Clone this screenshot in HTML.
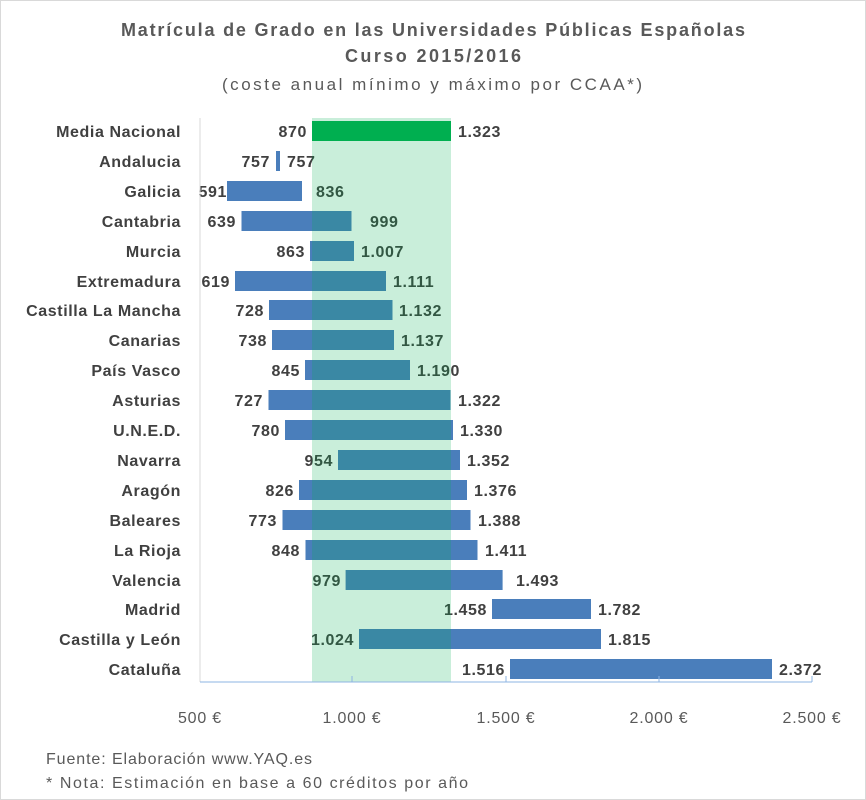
<!DOCTYPE html>
<html><head><meta charset="utf-8"><style>
body{margin:0;background:#fff;}
svg{display:block;font-family:"Liberation Sans",sans-serif;}
</style></head><body>
<svg width="866" height="800" viewBox="0 0 866 800">
<rect x="0.5" y="0.5" width="865" height="799" fill="#fff" stroke="#d9d9d9"/>
<g fill="#595959" font-weight="bold" font-size="18">
<text x="121" y="36" textLength="624" lengthAdjust="spacing">Matrícula de Grado en las Universidades Públicas Españolas</text>
<text x="345" y="62" textLength="176" lengthAdjust="spacing">Curso 2015/2016</text>
</g>
<text x="222" y="90" fill="#595959" font-size="17" textLength="420" lengthAdjust="spacing">(coste anual mínimo y máximo por CCAA*)</text>
<g font-size="16" font-weight="bold" fill="#404040" letter-spacing="0.6">
<g text-anchor="end">
<text x="181" y="137">Media Nacional</text>
<text x="181" y="167">Andalucia</text>
<text x="181" y="197">Galicia</text>
<text x="181" y="227">Cantabria</text>
<text x="181" y="257">Murcia</text>
<text x="181" y="287">Extremadura</text>
<text x="181" y="316">Castilla La Mancha</text>
<text x="181" y="346">Canarias</text>
<text x="181" y="376">País Vasco</text>
<text x="181" y="406">Asturias</text>
<text x="181" y="436">U.N.E.D.</text>
<text x="181" y="466">Navarra</text>
<text x="181" y="496">Aragón</text>
<text x="181" y="526">Baleares</text>
<text x="181" y="556">La Rioja</text>
<text x="181" y="586">Valencia</text>
<text x="181" y="615">Madrid</text>
<text x="181" y="645">Castilla y León</text>
<text x="181" y="675">Cataluña</text>
</g>
<rect x="312" y="121" width="139" height="20" fill="#00b050"/>
<g fill="#4a7ebb">
<rect x="276" y="151" width="4" height="20"/>
<rect x="227" y="181" width="75" height="20"/>
<rect x="241.5" y="211" width="110" height="20"/>
<rect x="310" y="241" width="44" height="20"/>
<rect x="235" y="271" width="151" height="20"/>
<rect x="269" y="300" width="123.5" height="20"/>
<rect x="272" y="330" width="122" height="20"/>
<rect x="305" y="360" width="105" height="20"/>
<rect x="268.5" y="390" width="182" height="20"/>
<rect x="285" y="420" width="168" height="20"/>
<rect x="338" y="450" width="122" height="20"/>
<rect x="299" y="480" width="168" height="20"/>
<rect x="282.5" y="510" width="188" height="20"/>
<rect x="305.5" y="540" width="172" height="20"/>
<rect x="345.6" y="570" width="157" height="20"/>
<rect x="492" y="599" width="99" height="20"/>
<rect x="359" y="629" width="242" height="20"/>
<rect x="510" y="659" width="262" height="20"/>
</g>
<g text-anchor="end">
<text x="307" y="137">870</text>
<text x="270" y="167">757</text>
<text x="227" y="197">591</text>
<text x="236" y="227">639</text>
<text x="305" y="257">863</text>
<text x="230" y="287">619</text>
<text x="264" y="316">728</text>
<text x="267" y="346">738</text>
<text x="300" y="376">845</text>
<text x="263" y="406">727</text>
<text x="280" y="436">780</text>
<text x="333" y="466">954</text>
<text x="294" y="496">826</text>
<text x="277" y="526">773</text>
<text x="300" y="556">848</text>
<text x="341" y="586">979</text>
<text x="487" y="615">1.458</text>
<text x="354" y="645">1.024</text>
<text x="505" y="675">1.516</text>
</g>
<text x="458" y="137">1.323</text>
<text x="287" y="167">757</text>
<text x="316" y="197">836</text>
<text x="370" y="227">999</text>
<text x="361" y="257">1.007</text>
<text x="393" y="287">1.111</text>
<text x="399" y="316">1.132</text>
<text x="401" y="346">1.137</text>
<text x="417" y="376">1.190</text>
<text x="458" y="406">1.322</text>
<text x="460" y="436">1.330</text>
<text x="467" y="466">1.352</text>
<text x="474" y="496">1.376</text>
<text x="478" y="526">1.388</text>
<text x="485" y="556">1.411</text>
<text x="516" y="586">1.493</text>
<text x="598" y="615">1.782</text>
<text x="608" y="645">1.815</text>
<text x="779" y="675">2.372</text>
</g>
<rect x="312" y="118" width="139" height="564" fill="rgb(0,176,80)" fill-opacity="0.21"/>
<line x1="200" y1="118" x2="200" y2="682" stroke="#d9d9d9"/>
<line x1="200" y1="682" x2="812" y2="682" stroke="#8eb4e3"/>
<g fill="#595959" font-size="16" text-anchor="middle" letter-spacing="0.8">
<text x="200" y="723">500 €</text><text x="352" y="723">1.000 €</text><text x="506" y="723">1.500 €</text><text x="659" y="723">2.000 €</text><text x="812" y="723">2.500 €</text>
</g>
<g stroke="#8eb4e3"><line x1="352" y1="682" x2="352" y2="676"/><line x1="506" y1="682" x2="506" y2="676"/><line x1="659" y1="682" x2="659" y2="676"/><line x1="812" y1="682" x2="812" y2="676"/></g>
<g fill="#595959" font-size="16">
<text x="46" y="764" textLength="266" lengthAdjust="spacing">Fuente: Elaboración www.YAQ.es</text>
<text x="46" y="788" textLength="422" lengthAdjust="spacing">* Nota: Estimación en base a 60 créditos por año</text>
</g>
</svg>
</body></html>
